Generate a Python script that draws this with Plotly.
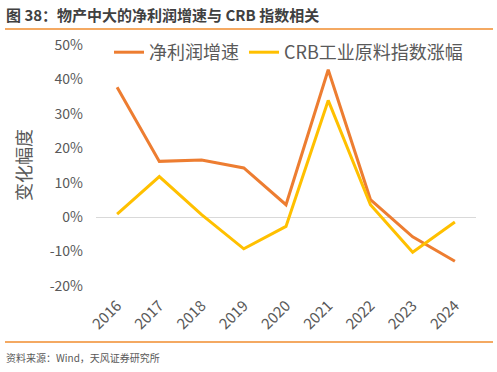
import plotly.graph_objects as go

years = ["2016", "2017", "2018", "2019", "2020", "2021", "2022", "2023", "2024"]
profit_growth = [37.7, 16.2, 16.6, 14.3, 3.6, 42.8, 5.1, -5.7, -12.8]
crb_change = [0.9, 11.8, 0.7, -9.2, -2.7, 33.9, 3.6, -10.2, -1.4]
ytick_vals = [-20, -10, 0, 10, 20, 30, 40, 50]
ytick_text = ["-20%", "-10%", "0%", "10%", "20%", "30%", "40%", "50%"]

FONT = "Noto Sans CJK SC, Noto Sans, sans-serif"
W, H = 497, 372
L, R, T, B = 96, 476, 45, 286

def px(x):
    return (x - L) / (R - L)

def py(y):
    return (B - y) / (B - T)

fig = go.Figure()
fig.add_trace(go.Scatter(x=years, y=profit_growth, mode="lines", name="净利润增速",
                         line=dict(color="#ED7D31", width=3)))
fig.add_trace(go.Scatter(x=years, y=crb_change, mode="lines", name="CRB工业原料指数涨幅",
                         line=dict(color="#FFC000", width=3)))

fig.update_layout(
    width=W, height=H,
    margin=dict(l=L, r=W - R, t=T, b=H - B, pad=0, autoexpand=False),
    paper_bgcolor="white", plot_bgcolor="white",
    font=dict(family=FONT, color="#595959"),
    showlegend=True,
    legend=dict(orientation="h", x=px(109), y=py(34), xanchor="left", yanchor="top",
                font=dict(size=18, color="#595959"), bgcolor="rgba(0,0,0,0)",
                itemwidth=30, tracegroupgap=0),
    xaxis=dict(type="category", range=[-0.5, 8.5], showgrid=False, showline=False,
               zeroline=False, tickangle=-45, tickfont=dict(size=15, color="#595959"),
               ticks="", ticklabelstandoff=7),
    yaxis=dict(range=[-20, 50], tickvals=ytick_vals, ticktext=ytick_text, showgrid=False,
               zeroline=True, zerolinecolor="#D9D9D9", zerolinewidth=1, showline=False,
               tickfont=dict(size=14, color="#595959"), ticklabelstandoff=12),
    shapes=[
        dict(type="line", xref="paper", yref="paper", x0=px(5), x1=px(493), y0=py(29), y1=py(29),
             line=dict(color="#F08C2E", width=1.5)),
        dict(type="line", xref="paper", yref="paper", x0=px(5), x1=px(493), y0=py(342), y1=py(342),
             line=dict(color="#F08C2E", width=1.5)),
    ],
    annotations=[
        dict(text="<b>图 38：物产中大的净利润增速与 CRB 指数相关</b>", xref="paper", yref="paper",
             x=px(4), y=py(14), xanchor="left", yanchor="middle", showarrow=False,
             font=dict(size=15, color="#404040")),
        dict(text="资料来源：Wind，天风证券研究所", xref="paper", yref="paper",
             x=px(4), y=py(357), xanchor="left", yanchor="middle", showarrow=False,
             font=dict(size=10, color="#595959")),
        dict(text="变化幅度", xref="paper", yref="paper", x=px(23), y=py(165),
             xanchor="center", yanchor="middle", textangle=-90, showarrow=False,
             font=dict(size=18, color="#595959")),
    ],
)

fig.write_html("out.html", config={"displayModeBar": False},
               post_script="document.body.style.margin='0';")
